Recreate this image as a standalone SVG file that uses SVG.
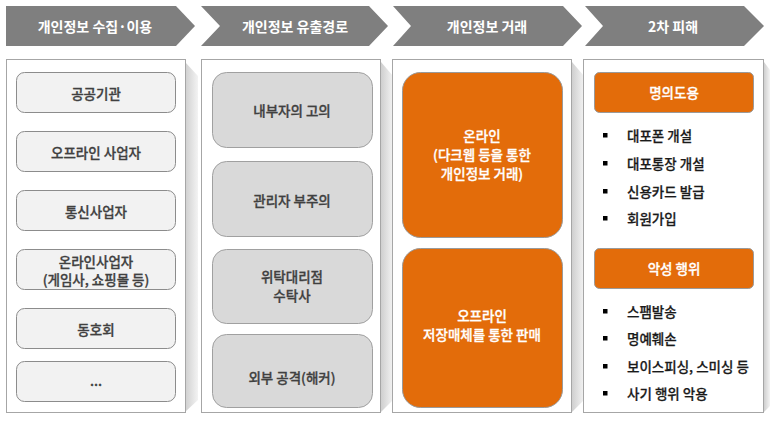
<svg xmlns="http://www.w3.org/2000/svg" width="776" height="422" viewBox="0 0 776 422">
<defs>
<linearGradient id="sh" x1="0" y1="0" x2="1" y2="0">
<stop offset="0" stop-color="#cfcfcf"/>
<stop offset="1" stop-color="#f3f3f3"/>
</linearGradient>
<style>
text{font-family:"Noto Sans CJK KR","Noto Sans",sans-serif;text-anchor:middle;dominant-baseline:central}
.hd{fill:#7f7f7f}
.ht{fill:#ffffff;font-size:14px;font-weight:bold}
.panel{fill:#ffffff;stroke:#a6a6a6;stroke-width:1}
.pshadow{fill:url(#sh)}
.b1{fill:#f2f2f2;stroke:#8c8c8c;stroke-width:1}
.b2{fill:#d9d9d9;stroke:#a0a0a0;stroke-width:1}
.b3{fill:#e36c0a;stroke:#9a9a9a;stroke-width:1}
.t1{fill:#404040;stroke:#404040;stroke-width:0.3;font-size:13.5px;font-weight:500}
.tw{fill:#ffffff;stroke:#ffffff;stroke-width:0.3;font-size:13.5px;font-weight:500}
.tl{fill:#1a1a1a;stroke:#1a1a1a;stroke-width:0.25;font-size:13.5px;font-weight:500;text-anchor:start}
.bul{fill:#000000}
</style>
</defs>
<g id="headers">
<g id="h1"><polygon class="hd" points="6,6 176,6 195,26 176,46 6,46"/><text class="ht" x="95" y="26">개인정보 수집·이용</text></g>
<g id="h2"><polygon class="hd" points="201,6 369,6 388,26 369,46 201,46 220,26"/><text class="ht" x="295" y="26">개인정보 유출경로</text></g>
<g id="h3"><polygon class="hd" points="393,6 563,6 582,26 563,46 393,46 411,26"/><text class="ht" x="487" y="26">개인정보 거래</text></g>
<g id="h4"><polygon class="hd" points="585,6 744,6 764,26 744,46 585,46 603,26"/><text class="ht" x="673" y="26">2차 피해</text></g>
</g>
<g id="panels">
<polygon class="pshadow" points="185,62 198,76 198,400 185,412"/>
<polygon class="pshadow" points="381,62 393,76 393,400 381,412"/>
<polygon class="pshadow" points="572,62 584,76 584,400 572,412"/>
<polygon class="pshadow" points="764,62 770,70 770,406 764,412"/>
<rect class="panel" x="6.5" y="59.5" width="179" height="353"/>
<rect class="panel" x="201.5" y="59.5" width="179" height="353"/>
<rect class="panel" x="392.5" y="59.5" width="179" height="353"/>
<rect class="panel" x="583.5" y="59.5" width="180" height="353"/>
</g>
<g id="col1">
<g id="n-public"><rect class="b1" x="16.5" y="72.5" width="159" height="40" rx="8"/><text class="t1" x="96" y="92.5">공공기관</text></g>
<g id="n-offline-biz"><rect class="b1" x="16.5" y="131.5" width="159" height="40" rx="8"/><text class="t1" x="96" y="151.5">오프라인 사업자</text></g>
<g id="n-telecom"><rect class="b1" x="16.5" y="190.5" width="159" height="40" rx="8"/><text class="t1" x="96" y="210.5">통신사업자</text></g>
<g id="n-online-biz"><rect class="b1" x="16.5" y="249.5" width="159" height="40" rx="8"/><text class="t1" x="96" y="260.5">온라인사업자</text><text class="t1" x="96" y="278.5">(게임사, 쇼핑몰 등)</text></g>
<g id="n-club"><rect class="b1" x="16.5" y="308.5" width="159" height="40" rx="8"/><text class="t1" x="96" y="328.5">동호회</text></g>
<g id="n-etc"><rect class="b1" x="16.5" y="361.5" width="159" height="40" rx="8"/><text class="t1" x="96" y="379.5">...</text></g>
</g>
<g id="col2">
<g id="n-insider"><rect class="b2" x="212.5" y="72.5" width="160" height="75" rx="14"/><text class="t1" x="292" y="110">내부자의 고의</text></g>
<g id="n-admin"><rect class="b2" x="212.5" y="161.5" width="160" height="75" rx="14"/><text class="t1" x="292" y="200">관리자 부주의</text></g>
<g id="n-agency"><rect class="b2" x="212.5" y="249.5" width="160" height="74" rx="14"/><text class="t1" x="292" y="276">위탁대리점</text><text class="t1" x="292" y="295">수탁사</text></g>
<g id="n-hacker"><rect class="b2" x="212.5" y="334.5" width="160" height="73" rx="14"/><text class="t1" x="292" y="377">외부 공격(해커)</text></g>
</g>
<g id="col3">
<g id="n-online"><rect class="b3" x="402.5" y="72.5" width="160" height="165" rx="18"/><text class="tw" x="482" y="135">온라인</text><text class="tw" x="482" y="154">(다크웹 등을 통한</text><text class="tw" x="482" y="173">개인정보 거래)</text></g>
<g id="n-offline"><rect class="b3" x="402.5" y="248.5" width="160" height="159" rx="18"/><text class="tw" x="482" y="315">오프라인</text><text class="tw" x="482" y="334">저장매체를 통한 판매</text></g>
</g>
<g id="col4">
<g id="n-identity"><rect class="b3" x="594.5" y="72.5" width="159" height="40" rx="5"/><text class="tw" x="674" y="92">명의도용</text>
<rect class="bul" x="603" y="133" width="4.5" height="4.5"/><text class="tl" x="627" y="135">대포폰 개설</text>
<rect class="bul" x="603" y="161" width="4.5" height="4.5"/><text class="tl" x="627" y="163">대포통장 개설</text>
<rect class="bul" x="603" y="189" width="4.5" height="4.5"/><text class="tl" x="627" y="191">신용카드 발급</text>
<rect class="bul" x="603" y="216" width="4.5" height="4.5"/><text class="tl" x="627" y="218">회원가입</text></g>
<g id="n-malicious"><rect class="b3" x="594.5" y="248.5" width="159" height="40" rx="5"/><text class="tw" x="674" y="268">악성 행위</text>
<rect class="bul" x="603" y="309" width="4.5" height="4.5"/><text class="tl" x="627" y="311">스팸발송</text>
<rect class="bul" x="603" y="336" width="4.5" height="4.5"/><text class="tl" x="627" y="338">명예훼손</text>
<rect class="bul" x="603" y="364" width="4.5" height="4.5"/><text class="tl" x="627" y="366">보이스피싱, 스미싱 등</text>
<rect class="bul" x="603" y="391" width="4.5" height="4.5"/><text class="tl" x="627" y="393">사기 행위 악용</text></g>
</g>
<g id="connectors"/>
</svg>
